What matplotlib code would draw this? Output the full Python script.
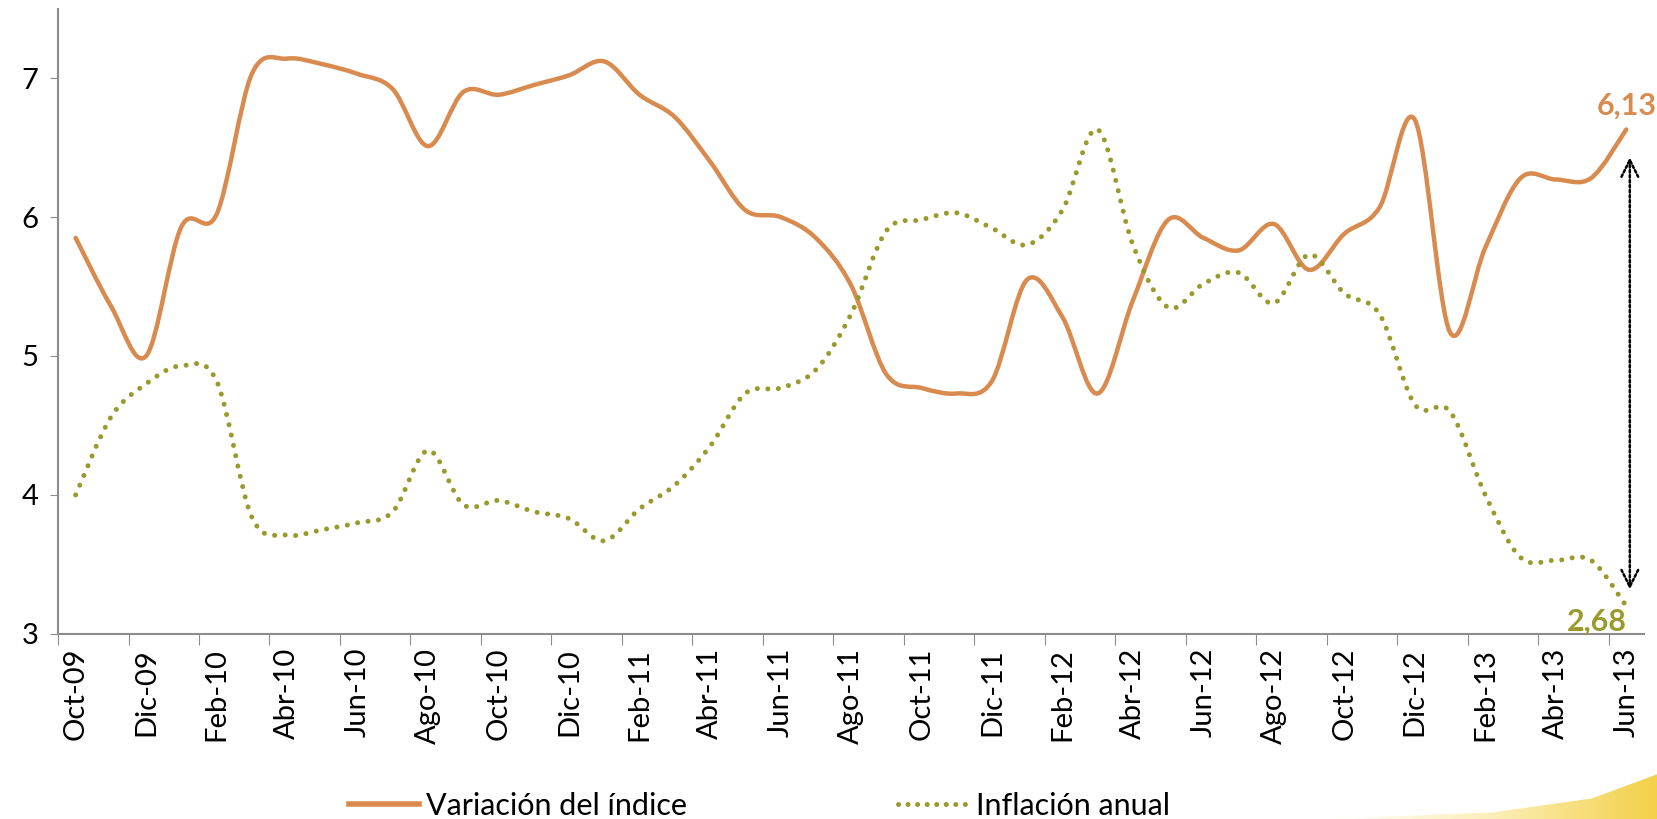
import matplotlib
matplotlib.use("Agg")
import matplotlib.pyplot as plt
import numpy as np
from matplotlib.path import Path
from matplotlib.patches import PathPatch, Polygon
from matplotlib.lines import Line2D
from matplotlib.colors import LinearSegmentedColormap

plt.rcParams['font.family'] = ['Lato', 'DejaVu Sans']

# Datos mensuales Oct-09 .. Jun-13
meses = ['Oct-09', 'Nov-09', 'Dic-09', 'Ene-10', 'Feb-10', 'Mar-10', 'Abr-10', 'May-10',
         'Jun-10', 'Jul-10', 'Ago-10', 'Sep-10', 'Oct-10', 'Nov-10', 'Dic-10', 'Ene-11',
         'Feb-11', 'Mar-11', 'Abr-11', 'May-11', 'Jun-11', 'Jul-11', 'Ago-11', 'Sep-11',
         'Oct-11', 'Nov-11', 'Dic-11', 'Ene-12', 'Feb-12', 'Mar-12', 'Abr-12', 'May-12',
         'Jun-12', 'Jul-12', 'Ago-12', 'Sep-12', 'Oct-12', 'Nov-12', 'Dic-12', 'Ene-13',
         'Feb-13', 'Mar-13', 'Abr-13', 'May-13', 'Jun-13']

variacion_indice = [5.85, 5.36, 5.00, 5.93, 6.02, 7.03, 7.14, 7.10, 7.03, 6.92,
                    6.51, 6.90, 6.88, 6.95, 7.02, 7.12, 6.88, 6.72, 6.40, 6.05,
                    6.00, 5.85, 5.51, 4.87, 4.77, 4.73, 4.82, 5.55, 5.28, 4.73,
                    5.40, 5.98, 5.85, 5.76, 5.95, 5.62, 5.88, 6.07, 6.70, 5.17,
                    5.78, 6.28, 6.27, 6.28, 6.63]

inflacion_anual = [4.00, 4.56, 4.80, 4.93, 4.82, 3.84, 3.71, 3.75, 3.80, 3.88,
                   4.32, 3.93, 3.96, 3.88, 3.83, 3.67, 3.90, 4.07, 4.35, 4.73,
                   4.77, 4.90, 5.30, 5.90, 5.98, 6.03, 5.92, 5.80, 6.05, 6.63,
                   5.80, 5.35, 5.52, 5.60, 5.38, 5.73, 5.45, 5.30, 4.65, 4.60,
                   4.00, 3.55, 3.53, 3.53, 3.20]

etiqueta_indice = '6,13'
etiqueta_inflacion = '2,68'

naranja = '#D98B4F'
verde = '#9A9A2C'
gris = '#8C8C8C'


def curva_suave(x, y):
    # Curva suavizada tipo Excel (Bezier con tangentes de Catmull-Rom)
    p = np.column_stack([x, y]).astype(float)
    n = len(p)
    verts = [p[0]]
    codes = [Path.MOVETO]
    for i in range(n - 1):
        p0 = p[i - 1] if i > 0 else p[i]
        p3 = p[i + 2] if i + 2 < n else p[i + 1]
        c1 = p[i] + (p[i + 1] - p0) / 6.0
        c2 = p[i + 1] - (p3 - p[i]) / 6.0
        verts += [c1, c2, p[i + 1]]
        codes += [Path.CURVE4] * 3
    return Path(verts, codes)


fig = plt.figure(figsize=(16.58, 8.19), dpi=100)

# decoracion amarilla abajo a la derecha (fondo de la diapositiva)
deco = fig.add_axes([0, 0, 1, 1], zorder=-1)
deco.set_xlim(0, 1)
deco.set_ylim(0, 1)
deco.axis('off')
grad = LinearSegmentedColormap.from_list('amarillo', ['#FFFFFF', '#FBEFB8', '#F3D048'])
img = deco.imshow(np.linspace(0, 1, 256).reshape(1, -1), cmap=grad, aspect='auto',
                  extent=[0.80, 1.0, 0, 0.07])
forma = Polygon([[0.80, 0.0], [0.90, 0.008], [0.96, 0.025], [1.0, 0.055], [1.0, 0.0]],
                closed=True, transform=deco.transData, facecolor='none', edgecolor='none')
deco.add_patch(forma)
img.set_clip_path(forma)

ax = fig.add_axes([0.035, 0.226, 0.9565, 0.7635])
ax.patch.set_alpha(0)

x = np.arange(len(meses))

ax.add_patch(PathPatch(curva_suave(x, variacion_indice), fill=False,
                       edgecolor=naranja, lw=3.2, capstyle='round', joinstyle='round'))
ax.add_patch(PathPatch(curva_suave(x, inflacion_anual), fill=False,
                       edgecolor=verde, lw=3.6, linestyle=(0, (0.01, 2.1)),
                       capstyle='round'))

ax.set_xlim(-0.5, len(meses) - 0.5)
ax.set_ylim(3, 7.5)
ax.set_yticks([3, 4, 5, 6, 7])
ax.tick_params(axis='y', labelsize=21, length=6, color=gris, pad=8)

ax.set_xticks(np.arange(-0.5, len(meses) - 1, 2))
ax.set_xticklabels([])
ax.set_xticks(x[::2], minor=True)
ax.set_xticklabels(meses[::2], minor=True, rotation=90, fontsize=21)
ax.tick_params(axis='x', which='major', length=8, color=gris)
ax.tick_params(axis='x', which='minor', length=0, pad=10)

for s in ['top', 'right']:
    ax.spines[s].set_visible(False)
for s in ['left', 'bottom']:
    ax.spines[s].set_color(gris)
    ax.spines[s].set_linewidth(1.5)

# flecha punteada entre las dos series
ax.annotate('', xy=(44.1, 3.3), xytext=(44.1, 6.45),
            arrowprops=dict(arrowstyle='<->', color='black', lw=1.8,
                            linestyle=(0, (1, 1)), mutation_scale=30))

ax.text(44.0, 6.8, etiqueta_indice, color=naranja, fontsize=22, fontweight='bold',
        ha='center', va='center', clip_on=False)
ax.text(43.17, 3.09, etiqueta_inflacion, color=verde, fontsize=22, fontweight='bold',
        ha='center', va='center', clip_on=False)

handles = [Line2D([], [], color=naranja, lw=4),
           Line2D([], [], color=verde, lw=3.6, linestyle=(0, (0.01, 1.9)),
                  dash_capstyle='round')]
fig.legend(handles, ['Variación del índice', 'Inflación anual'], loc='lower center',
           bbox_to_anchor=(0.458, -0.035), ncol=2, frameon=False, fontsize=22,
           handlelength=2.3, handletextpad=0.25, columnspacing=6.9)

fig.savefig('out.png', dpi=100)
